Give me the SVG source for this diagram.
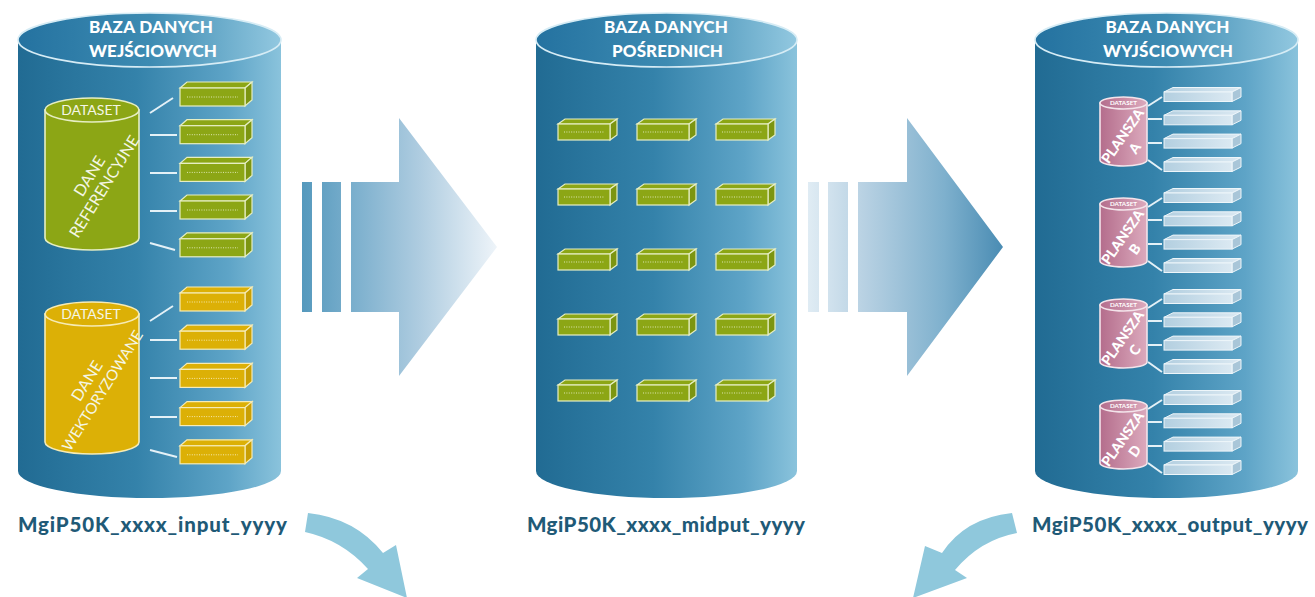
<svg xmlns="http://www.w3.org/2000/svg" xmlns:xlink="http://www.w3.org/1999/xlink" width="1315" height="597" viewBox="0 0 1315 597">
<defs>
  <linearGradient id="cylBody" x1="0" y1="0" x2="1" y2="0">
    <stop offset="0" stop-color="#216b93"/>
    <stop offset="0.45" stop-color="#3482aa"/>
    <stop offset="0.8" stop-color="#5ea4c7"/>
    <stop offset="1" stop-color="#8ac3dc"/>
  </linearGradient>
  <linearGradient id="cylTop" x1="0" y1="0" x2="1" y2="0">
    <stop offset="0" stop-color="#2472a0"/>
    <stop offset="0.5" stop-color="#3d8bb2"/>
    <stop offset="1" stop-color="#92c8e0"/>
  </linearGradient>
  <linearGradient id="arr1" gradientUnits="userSpaceOnUse" x1="302" y1="0" x2="497" y2="0">
    <stop offset="0" stop-color="#5599bd"/>
    <stop offset="0.3" stop-color="#80b2cf"/>
    <stop offset="0.6" stop-color="#aecce0"/>
    <stop offset="1" stop-color="#eef4f9"/>
  </linearGradient>
  <linearGradient id="arr2" gradientUnits="userSpaceOnUse" x1="808" y1="0" x2="1003" y2="0">
    <stop offset="0" stop-color="#e0ecf4"/>
    <stop offset="0.3" stop-color="#b6d0e2"/>
    <stop offset="0.7" stop-color="#7eb0cd"/>
    <stop offset="1" stop-color="#4a8cb3"/>
  </linearGradient>
  <linearGradient id="pink" x1="0" y1="0" x2="1" y2="0">
    <stop offset="0" stop-color="#b46d8c"/>
    <stop offset="1" stop-color="#dcaabd"/>
  </linearGradient>
  <linearGradient id="lblue" x1="0" y1="0" x2="1" y2="0">
    <stop offset="0" stop-color="#b3cfe0"/>
    <stop offset="1" stop-color="#dbe9f2"/>
  </linearGradient>
  <g id="gboxL">
    <polygon points="0,0 7,-6 72,-6 65,0" class="gb"/>
    <polygon points="65,0 72,-6 72,12 65,18" class="gbs"/>
    <rect x="0" y="0" width="65" height="18" class="gb"/>
    <line x1="7" y1="9" x2="58" y2="9" class="dot"/>
  </g>
  <g id="yboxL">
    <polygon points="0,0 7,-6 72,-6 65,0" class="yb"/>
    <polygon points="65,0 72,-6 72,12 65,18" class="ybs"/>
    <rect x="0" y="0" width="65" height="18" class="yb"/>
    <line x1="7" y1="9" x2="58" y2="9" class="doty"/>
  </g>
  <g id="gboxM">
    <polygon points="0,0 7,-5 59,-5 52,0" class="gb"/>
    <polygon points="52,0 59,-5 59,11 52,16" class="gbs"/>
    <rect x="0" y="0" width="52" height="16" class="gb"/>
    <line x1="6" y1="8" x2="46" y2="8" class="dot"/>
  </g>
  <g id="bbox">
    <polygon points="0,0 9,-4.5 77,-4.5 68,0" class="bb"/>
    <polygon points="68,0 77,-4.5 77,5 68,9.5" class="bbs"/>
    <rect x="0" y="0" width="68" height="9.5" class="bb"/>
  </g>
  <g id="pcyl">
    <path d="M-23.5,6 L-23.5,63 A23.5,6 0 0 0 23.5,63 L23.5,6 Z" fill="url(#pink)" stroke="#f3e3ea" stroke-width="1.6"/>
    <ellipse cx="0" cy="6" rx="23.5" ry="6" fill="url(#pink)" stroke="#f3e3ea" stroke-width="1.6"/>
    <text x="0" y="8.3" class="ds">DATASET</text>
  </g>
</defs>
<style>
  .cyl { fill: url(#cylBody); }
  .cyltop { fill: url(#cylTop); stroke: #d6ecf5; stroke-width: 1.6; }
  .head { font-family: Lato, "Open Sans", sans-serif; font-weight: 900; font-size: 17px; fill: #ffffff; text-anchor: middle; }
  .lbl { font-family: Lato, "Open Sans", sans-serif; font-weight: 900; font-size: 20.5px; fill: #1f5a77; text-anchor: middle; }
  .gb { fill: #8ca615; stroke: #e6eec3; stroke-width: 1.2; }
  .gbs { fill: #7c9511; stroke: #e6eec3; stroke-width: 1.2; }
  .yb { fill: #dcb006; stroke: #f6ebb5; stroke-width: 1.2; }
  .ybs { fill: #c99f04; stroke: #f6ebb5; stroke-width: 1.2; }
  .bb { fill: url(#lblue); stroke: #eef6fa; stroke-width: 1; }
  .bbs { fill: #a9c6d8; stroke: #eef6fa; stroke-width: 1; }
  .dot { stroke: #e6eec3; stroke-width: 0.9; stroke-dasharray: 1 1.4; }
  .doty { stroke: #f8efc0; stroke-width: 0.9; stroke-dasharray: 1 1.4; }
  .dsL { font-family: Lato, "Open Sans", sans-serif; font-weight: 400; font-size: 14px; fill: #f4f6e4; text-anchor: middle; }
  .rot { font-family: Lato, "Open Sans", sans-serif; font-weight: 400; font-size: 16px; fill: #f4f6e4; text-anchor: middle; }
  .ds { font-family: Lato, "Open Sans", sans-serif; font-weight: 700; font-size: 6.3px; fill: #ffffff; text-anchor: middle; }
  .pl { font-family: Lato, "Open Sans", sans-serif; font-weight: 900; font-size: 14px; fill: #ffffff; text-anchor: middle; }
  .cn { stroke: #e4f1f7; stroke-width: 2; fill: none; }
  .curve { fill: #8fc8dc; }
</style>

<!-- Input database -->
<g id="db-input">
  <path class="cyl" d="M18,40 L18,471 A131.5,27 0 0 0 281,471 L281,40 Z"/>
  <ellipse class="cyltop" cx="149.5" cy="40" rx="131.5" ry="27"/>
  <text class="head" x="151" y="33" textLength="124">BAZA DANYCH</text>
  <text class="head" x="153" y="57" textLength="128">WEJŚCIOWYCH</text>
  <g id="ds-referencyjne">
    <path d="M45,110 L45,238 A47,12 0 0 0 139,238 L139,110 Z" fill="#8ca615" stroke="#e6eec3" stroke-width="1.6"/>
    <ellipse cx="92" cy="110" rx="47" ry="12" fill="#8ca615" stroke="#e6eec3" stroke-width="1.6"/>
    <text class="dsL" x="91" y="115">DATASET</text>
    <g transform="translate(97,182) rotate(-58)">
      <text class="rot" x="1" y="-4">DANE</text>
      <text class="rot" x="0" y="14">REFERENCYJNE</text>
    </g>
  </g>
  <use xlink:href="#gboxL" x="180" y="88"/>
  <use xlink:href="#gboxL" x="180" y="125.7"/>
  <use xlink:href="#gboxL" x="180" y="163.4"/>
  <use xlink:href="#gboxL" x="180" y="201"/>
  <use xlink:href="#gboxL" x="180" y="238.8"/>
  <g id="ds-wektoryzowane">
    <path d="M45,314 L45,442 A47,12 0 0 0 139,442 L139,314 Z" fill="#dcb006" stroke="#f6ebb5" stroke-width="1.6"/>
    <ellipse cx="92" cy="314" rx="47" ry="12" fill="#dcb006" stroke="#f6ebb5" stroke-width="1.6"/>
    <text class="dsL" x="91" y="319">DATASET</text>
    <g transform="translate(95,386) rotate(-58)">
      <text class="rot" x="0" y="-4">DANE</text>
      <text class="rot" x="0" y="14" style="font-size:15px">WEKTORYZOWANE</text>
    </g>
  </g>
  <use xlink:href="#yboxL" x="180" y="293"/>
  <use xlink:href="#yboxL" x="180" y="331.2"/>
  <use xlink:href="#yboxL" x="180" y="369.4"/>
  <use xlink:href="#yboxL" x="180" y="407.6"/>
  <use xlink:href="#yboxL" x="180" y="445.8"/>
  <text class="lbl" x="152.5" y="532" textLength="269">MgiP50K_xxxx_input_yyyy</text>
</g>

<!-- Intermediate database -->
<g id="db-midput">
  <path class="cyl" d="M536,40 L536,471 A130.5,27 0 0 0 797,471 L797,40 Z"/>
  <ellipse class="cyltop" cx="666.5" cy="40" rx="130.5" ry="27"/>
  <text class="head" x="666" y="33" textLength="124">BAZA DANYCH</text>
  <text class="head" x="667.5" y="57" textLength="111">POŚREDNICH</text>
  <use xlink:href="#gboxM" x="558" y="124"/>
  <use xlink:href="#gboxM" x="637" y="124"/>
  <use xlink:href="#gboxM" x="716" y="124"/>
  <use xlink:href="#gboxM" x="558" y="189"/>
  <use xlink:href="#gboxM" x="637" y="189"/>
  <use xlink:href="#gboxM" x="716" y="189"/>
  <use xlink:href="#gboxM" x="558" y="254"/>
  <use xlink:href="#gboxM" x="637" y="254"/>
  <use xlink:href="#gboxM" x="716" y="254"/>
  <use xlink:href="#gboxM" x="558" y="319"/>
  <use xlink:href="#gboxM" x="637" y="319"/>
  <use xlink:href="#gboxM" x="716" y="319"/>
  <use xlink:href="#gboxM" x="558" y="385"/>
  <use xlink:href="#gboxM" x="637" y="385"/>
  <use xlink:href="#gboxM" x="716" y="385"/>
  <text class="lbl" x="666" y="532" textLength="278">MgiP50K_xxxx_midput_yyyy</text>
</g>

<!-- Output database -->
<g id="db-output">
  <path class="cyl" d="M1035,40 L1035,471 A131.5,27 0 0 0 1298,471 L1298,40 Z"/>
  <ellipse class="cyltop" cx="1166.5" cy="40" rx="131.5" ry="27"/>
  <text class="head" x="1167.5" y="33" textLength="124">BAZA DANYCH</text>
  <text class="head" x="1168" y="57" textLength="130">WYJŚCIOWYCH</text>
  <g id="plansza-a">
    <use xlink:href="#pcyl" x="1123.5" y="97"/>
    <g transform="translate(1130,141) rotate(-55)"><text class="pl" x="0" y="-4">PLANSZA</text><text class="pl" x="-3" y="13">A</text></g>
    <use xlink:href="#bbox" x="1164" y="92"/>
    <use xlink:href="#bbox" x="1164" y="115.3"/>
    <use xlink:href="#bbox" x="1164" y="138.6"/>
    <use xlink:href="#bbox" x="1164" y="162"/>
  </g>
  <g id="plansza-b">
    <use xlink:href="#pcyl" x="1123.5" y="198"/>
    <g transform="translate(1130,242) rotate(-55)"><text class="pl" x="0" y="-4">PLANSZA</text><text class="pl" x="-3" y="13">B</text></g>
    <use xlink:href="#bbox" x="1164" y="193"/>
    <use xlink:href="#bbox" x="1164" y="216.3"/>
    <use xlink:href="#bbox" x="1164" y="239.6"/>
    <use xlink:href="#bbox" x="1164" y="263"/>
  </g>
  <g id="plansza-c">
    <use xlink:href="#pcyl" x="1123.5" y="299"/>
    <g transform="translate(1130,343) rotate(-55)"><text class="pl" x="0" y="-4">PLANSZA</text><text class="pl" x="-3" y="13">C</text></g>
    <use xlink:href="#bbox" x="1164" y="294"/>
    <use xlink:href="#bbox" x="1164" y="317.3"/>
    <use xlink:href="#bbox" x="1164" y="340.6"/>
    <use xlink:href="#bbox" x="1164" y="364"/>
  </g>
  <g id="plansza-d">
    <use xlink:href="#pcyl" x="1123.5" y="400"/>
    <g transform="translate(1130,444) rotate(-55)"><text class="pl" x="0" y="-4">PLANSZA</text><text class="pl" x="-3" y="13">D</text></g>
    <use xlink:href="#bbox" x="1164" y="395"/>
    <use xlink:href="#bbox" x="1164" y="418.3"/>
    <use xlink:href="#bbox" x="1164" y="441.6"/>
    <use xlink:href="#bbox" x="1164" y="465"/>
  </g>
  <text class="lbl" x="1170" y="532" textLength="276">MgiP50K_xxxx_output_yyyy</text>
</g>

<!-- Connectors -->
<g id="connectors">
  <g class="cn">
    <line x1="150" y1="113" x2="173" y2="98"/>
    <line x1="150" y1="135" x2="177" y2="135"/>
    <line x1="150" y1="173" x2="177" y2="173"/>
    <line x1="150" y1="211" x2="177" y2="211"/>
    <line x1="150" y1="243" x2="175" y2="250"/>
    <line x1="150" y1="321" x2="173" y2="306"/>
    <line x1="150" y1="340" x2="177" y2="340"/>
    <line x1="150" y1="378" x2="177" y2="378"/>
    <line x1="150" y1="417" x2="177" y2="417"/>
    <line x1="150" y1="450" x2="177" y2="457"/>
  </g>
  <g class="cn">
    <line x1="1148" y1="106" x2="1162" y2="97"/>
    <line x1="1148" y1="119" x2="1162" y2="119"/>
    <line x1="1148" y1="143" x2="1162" y2="143"/>
    <line x1="1148" y1="160" x2="1162" y2="170"/>
    <line x1="1148" y1="207" x2="1162" y2="198"/>
    <line x1="1148" y1="220" x2="1162" y2="220"/>
    <line x1="1148" y1="244" x2="1162" y2="244"/>
    <line x1="1148" y1="261" x2="1162" y2="271"/>
    <line x1="1148" y1="308" x2="1162" y2="299"/>
    <line x1="1148" y1="321" x2="1162" y2="321"/>
    <line x1="1148" y1="345" x2="1162" y2="345"/>
    <line x1="1148" y1="362" x2="1162" y2="372"/>
    <line x1="1148" y1="409" x2="1162" y2="400"/>
    <line x1="1148" y1="422" x2="1162" y2="422"/>
    <line x1="1148" y1="446" x2="1162" y2="446"/>
    <line x1="1148" y1="463" x2="1162" y2="473"/>
  </g>
  <g id="arrow-input-midput" fill="url(#arr1)">
    <rect x="302" y="182" width="10" height="130"/>
    <rect x="322" y="182" width="19" height="130"/>
    <polygon points="351,182 399,182 399,118 497,247 399,376 399,312 351,312"/>
  </g>
  <g id="arrow-midput-output" fill="url(#arr2)">
    <rect x="808" y="182" width="11" height="130"/>
    <rect x="828" y="182" width="20" height="130"/>
    <polygon points="858,182 907,182 907,118 1003,247 907,376 907,312 858,312"/>
  </g>
  <path id="curve-input" class="curve" d="M308,513 Q355,518 383,553 L396,545 L407,598 L357,578 L368,569 Q342,540 305,532 Z"/>
  <path id="curve-output" class="curve" d="M1012,513 Q965,518 942,553 L925,546 L913,598 L967,578 L955,570 Q980,540 1017,533 Z"/>
</g>
</svg>
